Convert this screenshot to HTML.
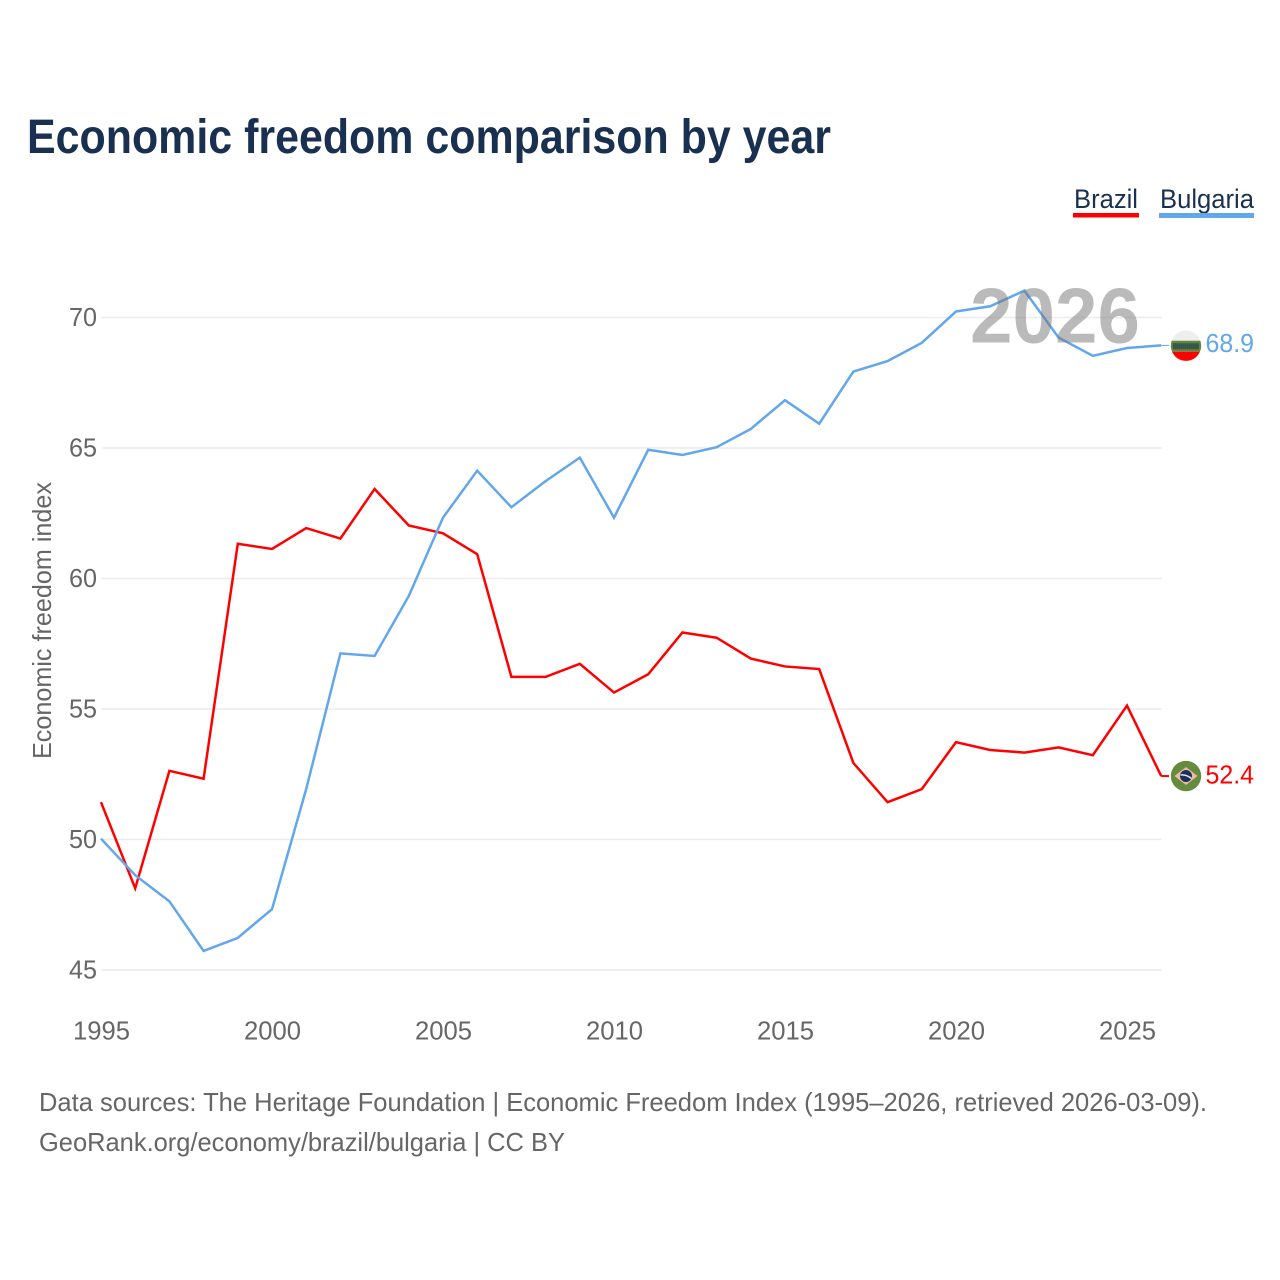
<!DOCTYPE html>
<html lang="en">
<head>
<meta charset="utf-8">
<title>Economic freedom comparison by year</title>
<style>
html,body{margin:0;padding:0;background:#fff;width:1280px;height:1280px;overflow:hidden}
svg{display:block}
text{font-family:"Liberation Sans",sans-serif}
</style>
</head>
<body>
<svg id="chart" xmlns="http://www.w3.org/2000/svg" width="1280" height="1280" viewBox="0 0 1280 1280">
  <defs>
    <clipPath id="clip-bg"><circle id="clip-bg-c" r="15.2"/></clipPath>
    <clipPath id="clip-br"><circle id="clip-br-c" r="15.2"/></clipPath>
    <pattern id="dots" width="2" height="2" patternUnits="userSpaceOnUse"><rect width="2" height="2" fill="#5f8a3c"/><rect x="0.3" y="0.3" width="1.5" height="1.5" fill="#1b2f5c"/></pattern>
  </defs>
  <text x="27" y="153" font-size="48" font-weight="700" fill="#1a3050" textLength="804" lengthAdjust="spacingAndGlyphs">Economic freedom comparison by year</text>

  <g>
    <g>
      <text x="1074" y="208" font-size="27" fill="#1a3050" textLength="64" lengthAdjust="spacingAndGlyphs">Brazil</text>
      <rect x="1073" y="213" width="66" height="4.5" fill="#ff0000"/>
    </g>
    <g>
      <text x="1160" y="208" font-size="27" fill="#1a3050" textLength="94" lengthAdjust="spacingAndGlyphs">Bulgaria</text>
      <rect x="1159" y="213" width="95" height="5" fill="#62a6ec"/>
    </g>
  </g>

  <g id="grid"></g>
  <g id="yticks"></g>
  <g id="xticks"></g>
  <text transform="translate(51,759) rotate(-90)" x="0" y="0" font-size="26" fill="#666666" textLength="277" lengthAdjust="spacingAndGlyphs">Economic freedom index</text>

  <g id="series" transform="translate(-0.5,-0.8)"></g>
  <g id="flags"></g>

  <text x="970" y="342.5" font-size="78" font-weight="700" fill="#777777" opacity="0.5" textLength="170" lengthAdjust="spacingAndGlyphs">2026</text>

  <text x="39" y="1111" font-size="26" fill="#666666" textLength="1168" lengthAdjust="spacingAndGlyphs">Data sources: The Heritage Foundation | Economic Freedom Index (1995–2026, retrieved 2026-03-09).</text>
  <text x="39" y="1151" font-size="26" fill="#666666" textLength="526" lengthAdjust="spacingAndGlyphs">GeoRank.org/economy/brazil/bulgaria | CC BY</text>
</svg>
<script>
const years = [1995,1996,1997,1998,1999,2000,2001,2002,2003,2004,2005,2006,2007,2008,2009,2010,2011,2012,2013,2014,2015,2016,2017,2018,2019,2020,2021,2022,2023,2024,2025,2026];
const brazil = [51.4,48.1,52.6,52.3,61.3,61.1,61.9,61.5,63.4,62.0,61.7,60.9,56.2,56.2,56.7,55.6,56.3,57.9,57.7,56.9,56.6,56.5,52.9,51.4,51.9,53.7,53.4,53.3,53.5,53.2,55.1,52.4];
const bulgaria = [50.0,48.6,47.6,45.7,46.2,47.3,51.9,57.1,57.0,59.3,62.3,64.1,62.7,63.7,64.6,62.3,64.9,64.7,65.0,65.7,66.8,65.9,67.9,68.3,69.0,70.2,70.4,71.0,69.2,68.5,68.8,68.9];
const yTicks = [45,50,55,60,65,70];
const xTicks = [1995,2000,2005,2010,2015,2020,2025];

const NS = 'http://www.w3.org/2000/svg';
const xOf = v => 101.5 + (v - 1995) * 34.2;
const yOf = v => 970 - (v - 45) * 26.1;

function mk(tag, attrs, parent) {
  const el = document.createElementNS(NS, tag);
  for (const k in attrs) el.setAttribute(k, attrs[k]);
  parent.appendChild(el);
  return el;
}

const grid = document.getElementById('grid');
const yG = document.getElementById('yticks');
const xG = document.getElementById('xticks');
const seriesG = document.getElementById('series');
const flags = document.getElementById('flags');

yTicks.forEach(t => {
  const line = mk('line', {x1: xOf(1995), x2: xOf(2026), y1: yOf(t), y2: yOf(t), stroke: '#ececec', 'stroke-width': 1.6}, grid);
  
  
  const label = mk('text', {x: 97, y: yOf(t) + 8.5, 'font-size': 26, fill: '#666666', 'text-anchor': 'end', textLength: 28, lengthAdjust: 'spacingAndGlyphs'}, yG);
  
  
  label.textContent = t;
});

xTicks.forEach(t => {
  const label = mk('text', {x: xOf(t), y: 1039.3, 'font-size': 26, fill: '#666666', 'text-anchor': 'middle', textLength: 57, lengthAdjust: 'spacingAndGlyphs'}, xG);
  
  
  label.textContent = t;
});

function pathOf(vals) {
  return vals.map((v, i) => (i ? 'L' : 'M') + xOf(years[i]).toFixed(2) + ' ' + yOf(v).toFixed(2)).join(' ');
}

const brazilLine = mk('path', {d: pathOf(brazil), fill: 'none', stroke: '#ff0000', 'stroke-width': 2.5, 'stroke-linejoin': 'miter'}, seriesG);



const bulgariaLine = mk('path', {d: pathOf(bulgaria), fill: 'none', stroke: '#62a6ec', 'stroke-width': 2.5, 'stroke-linejoin': 'miter'}, seriesG);



const fx = 1186;
const lastX = xOf(years[years.length - 1]);
const bgY = yOf(bulgaria[bulgaria.length - 1]) - 0.8;
const brY = yOf(brazil[brazil.length - 1]) - 0.8;

const bgConn = mk('line', {x1: lastX - 0.5, x2: 1169, y1: bgY, y2: bgY, stroke: '#62a6ec', 'stroke-width': 1}, flags);


const brConn = mk('line', {x1: lastX - 0.5, x2: 1169, y1: brY, y2: brY, stroke: '#ff0000', 'stroke-width': 2}, flags);



// Bulgaria end marker
const bcy = bgY + 0.3;
const cb = document.getElementById('clip-bg-c');
cb.setAttribute('cx', fx);
cb.setAttribute('cy', bcy);
const bgFlag = mk('g', {'clip-path': 'url(#clip-bg)'}, flags);


mk('rect', {x: fx - 16, y: bcy - 16, width: 32, height: 11, fill: '#eeeeee'}, bgFlag);
mk('rect', {x: fx - 16, y: bcy - 5, width: 32, height: 11, fill: '#5f8a3c'}, bgFlag);
mk('rect', {x: fx - 13, y: bcy - 2.5, width: 26, height: 6, fill: 'url(#dots)'}, bgFlag);
mk('rect', {x: fx - 16, y: bcy + 6, width: 32, height: 10, fill: '#ff0000'}, bgFlag);

// Brazil end marker
const rcy = brY;
const cr = document.getElementById('clip-br-c');
cr.setAttribute('cx', fx);
cr.setAttribute('cy', rcy);
const brFlag = mk('g', {'clip-path': 'url(#clip-br)'}, flags);


mk('rect', {x: fx - 16, y: rcy - 16, width: 32, height: 32, fill: '#648c3f'}, brFlag);
mk('polygon', {points: `${fx-11.5},${rcy} ${fx},${rcy-9} ${fx+11.5},${rcy} ${fx},${rcy+9}`, fill: '#f4b8a0'}, brFlag);
mk('circle', {cx: fx, cy: rcy, r: 6, fill: '#17305f'}, brFlag);
mk('path', {d: `M${fx-5.5} ${rcy-1} Q${fx} ${rcy-2} ${fx+5.5} ${rcy+2.5}`, fill: 'none', stroke: '#e8e8e8', 'stroke-width': 1.4}, brFlag);

const bgLabel = mk('text', {x: 1205.5, y: bgY + 6.5, 'font-size': 26, fill: '#62a6ec', textLength: 48.5, lengthAdjust: 'spacingAndGlyphs'}, flags);


bgLabel.textContent = bulgaria[bulgaria.length - 1].toFixed(1);

const brLabel = mk('text', {x: 1205.5, y: brY + 7.5, 'font-size': 26, fill: '#ff0000', textLength: 48.5, lengthAdjust: 'spacingAndGlyphs'}, flags);


brLabel.textContent = brazil[brazil.length - 1].toFixed(1);
</script>
</body>
</html>
